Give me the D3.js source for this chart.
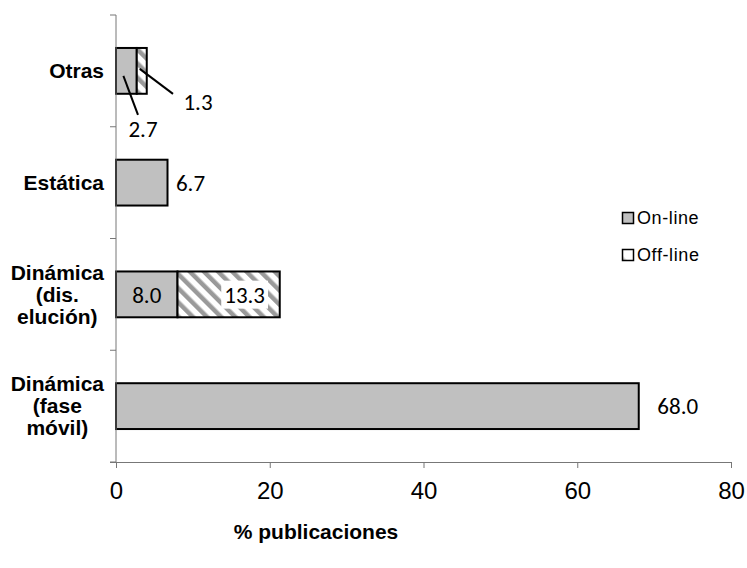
<!DOCTYPE html>
<html>
<head>
<meta charset="utf-8">
<script src="https://cdn.jsdelivr.net/npm/d3@7"></script>
<style>
  html, body { margin: 0; padding: 0; background: #fff; }
  svg { display: block; }
</style>
</head>
<body>
<svg id="chart" width="747" height="568"></svg>
<script>
// Categories, top to bottom
const categories = [
  ["Otras"],
  ["Estática"],
  ["Dinámica", "(dis.", "elución)"],
  ["Dinámica", "(fase", "móvil)"]
];
const onlineValues  = [2.7, 6.7, 8.0, 68.0];
const offlineValues = [1.3, 0, 13.3, 0];
const seriesNames = ["On-line", "Off-line"];
const xTicks = [0, 20, 40, 60, 80];
const xTitle = "% publicaciones";

const svg = d3.select("#chart");
const margin = { left: 116, right: 16, top: 15, bottom: 106 };
const W = 747, H = 568;

const x = d3.scaleLinear().domain([0, 80]).range([margin.left, W - margin.right]);
const y = d3.scaleBand().domain(d3.range(categories.length))
  .range([margin.top, H - margin.bottom]).paddingInner(0.59).paddingOuter(0.295);

// Diagonal hatch for the off-line series
const defs = svg.append("defs");
const pat = defs.append("pattern").attr("id", "hatch")
  .attr("patternUnits", "userSpaceOnUse").attr("width", 10).attr("height", 10)
  .attr("patternTransform", "rotate(-45)");
pat.append("rect").attr("width", 10).attr("height", 10).attr("fill", "#fff");
pat.append("rect").attr("x", 0).attr("width", 4.5).attr("height", 10).attr("fill", "#9a9a9a");
const blur = defs.append("filter").attr("id", "soft");
blur.append("feGaussianBlur").attr("stdDeviation", 0.6);
const swatch = defs.append("linearGradient").attr("id", "offSwatch")
  .attr("x1", 0).attr("y1", 1).attr("x2", 0.6).attr("y2", 0.4);
swatch.append("stop").attr("offset", 0).attr("stop-color", "#9a9a9a");
swatch.append("stop").attr("offset", 0.45).attr("stop-color", "#fff");
swatch.append("stop").attr("offset", 1).attr("stop-color", "#fff");

const rows = categories.map((c, i) => ({ i, on: onlineValues[i], off: offlineValues[i] }));

// Bars
const g = svg.append("g");
rows.forEach(r => {
  g.append("rect")
    .attr("x", x(0)).attr("y", y(r.i))
    .attr("width", x(r.on) - x(0)).attr("height", y.bandwidth())
    .attr("fill", "#c0c0c0").attr("stroke", "#000").attr("stroke-width", 2);
  if (r.off > 0) {
    g.append("rect")
      .attr("x", x(r.on)).attr("y", y(r.i))
      .attr("width", x(r.on + r.off) - x(r.on)).attr("height", y.bandwidth())
      .attr("fill", "url(#hatch)").attr("filter", "url(#soft)");
    g.append("rect")
      .attr("x", x(r.on)).attr("y", y(r.i))
      .attr("width", x(r.on + r.off) - x(r.on)).attr("height", y.bandwidth())
      .attr("fill", "none").attr("stroke", "#000").attr("stroke-width", 2);
  }
});

// Axes
const axisY = x(0);
const yBottom = H - margin.bottom;
svg.append("line").attr("x1", axisY).attr("x2", axisY)
  .attr("y1", margin.top).attr("y2", yBottom).attr("stroke", "#777").attr("stroke-width", 1);
const step = y.step();
d3.range(categories.length + 1).forEach(k => {
  const ty = y(0) - y.paddingOuter() * step + k * step;
  svg.append("line").attr("x1", axisY - 6).attr("x2", axisY)
    .attr("y1", ty).attr("y2", ty).attr("stroke", "#777");
});

const xAxis = d3.axisBottom(x).tickValues(xTicks).tickSize(6).tickFormat(d3.format("d"));
const xg = svg.append("g").attr("transform", `translate(0,${yBottom})`).call(xAxis);
xg.select(".domain").attr("d", `M${axisY - 6},0.5H${x(80)}`).attr("stroke", "#777");
xg.selectAll(".tick line").attr("stroke", "#777");
xg.selectAll(".tick text").attr("dy", "0.35em").attr("y", 29)
  .attr("font-family", "Liberation Sans, Arial, sans-serif")
  .attr("font-size", 24).attr("fill", "#000");

// Category labels
categories.forEach((lines, i) => {
  const cy = y(i) + y.bandwidth() / 2;
  const t = svg.append("text")
    .attr("font-family", "Liberation Sans, Arial, sans-serif")
    .attr("font-weight", "bold").attr("font-size", 21).attr("fill", "#000");
  const lh = 22;
  lines.forEach((s, j) => {
    t.append("tspan").attr("y", cy + (j - (lines.length - 1) / 2) * lh).attr("dy", "0.35em").text(s);
  });
  const widths = [];
  t.selectAll("tspan").each(function() { widths.push(this.getComputedTextLength()); });
  const maxW = d3.max(widths);
  const cx = 104 - maxW / 2;
  t.attr("text-anchor", "middle").selectAll("tspan").attr("x", cx);
});

// Value labels
const valFont = "Carlito, Lato, 'Open Sans', sans-serif";
function label(text, lx, ly, bg) {
  const t = svg.append("text").attr("x", lx).attr("y", ly).attr("dy", "0.36em")
    .attr("text-anchor", "middle").attr("font-family", valFont).attr("font-size", 23)
    .attr("fill", "#000").text(text);
  if (bg) {
    const b = t.node().getBBox();
    svg.insert("rect", () => t.node()).attr("x", b.x - 3).attr("y", b.y)
      .attr("width", b.width + 6).attr("height", b.height).attr("fill", "#fff");
  }
}
const fmt = d3.format(".1f");
const mid = i => y(i) + y.bandwidth() / 2;

// Otras: leader lines
svg.append("line").attr("x1", x(onlineValues[0] + offlineValues[0] / 2) - 2).attr("y1", mid(0) - 2)
  .attr("x2", 173).attr("y2", mid(0) + 23).attr("stroke", "#000").attr("stroke-width", 2);
label(fmt(offlineValues[0]), 198, mid(0) + 31);
svg.append("line").attr("x1", x(onlineValues[0] / 2) - 3).attr("y1", mid(0) + 5)
  .attr("x2", 138).attr("y2", mid(0) + 44).attr("stroke", "#000").attr("stroke-width", 2);
label(fmt(onlineValues[0]), 143, mid(0) + 58);

// Estática
label(fmt(onlineValues[1]), x(onlineValues[1]) + 23, mid(1));
// Dinámica (dis. elución)
label(fmt(onlineValues[2]), (x(0) + x(onlineValues[2])) / 2, mid(2));
label(fmt(offlineValues[2]), (x(onlineValues[2]) + x(onlineValues[2] + offlineValues[2])) / 2 + 16, mid(2), true);
// Dinámica (fase móvil)
label(fmt(onlineValues[3]), x(onlineValues[3]) + 39, mid(3));

// Legend
const legend = svg.append("g").attr("transform", "translate(622,0)");
seriesNames.forEach((name, k) => {
  const ly = 218 + k * 37;
  legend.append("rect").attr("x", 0.5).attr("y", ly - 5.5).attr("width", 11).attr("height", 11)
    .attr("fill", k === 0 ? "#c0c0c0" : "url(#offSwatch)").attr("stroke", "#000").attr("stroke-width", 1.5);
  legend.append("text").attr("x", 15).attr("y", ly).attr("dy", "0.35em")
    .attr("font-family", "Liberation Sans, Arial, sans-serif").attr("font-size", 18)
    .attr("letter-spacing", 0.6).attr("fill", "#000").text(name);
});

// Axis title
svg.append("text").attr("x", 316).attr("y", 532).attr("dy", "0.35em")
  .attr("text-anchor", "middle").attr("font-family", "Liberation Sans, Arial, sans-serif")
  .attr("font-weight", "bold").attr("font-size", 21).attr("fill", "#000").text(xTitle);
</script>
</body>
</html>
